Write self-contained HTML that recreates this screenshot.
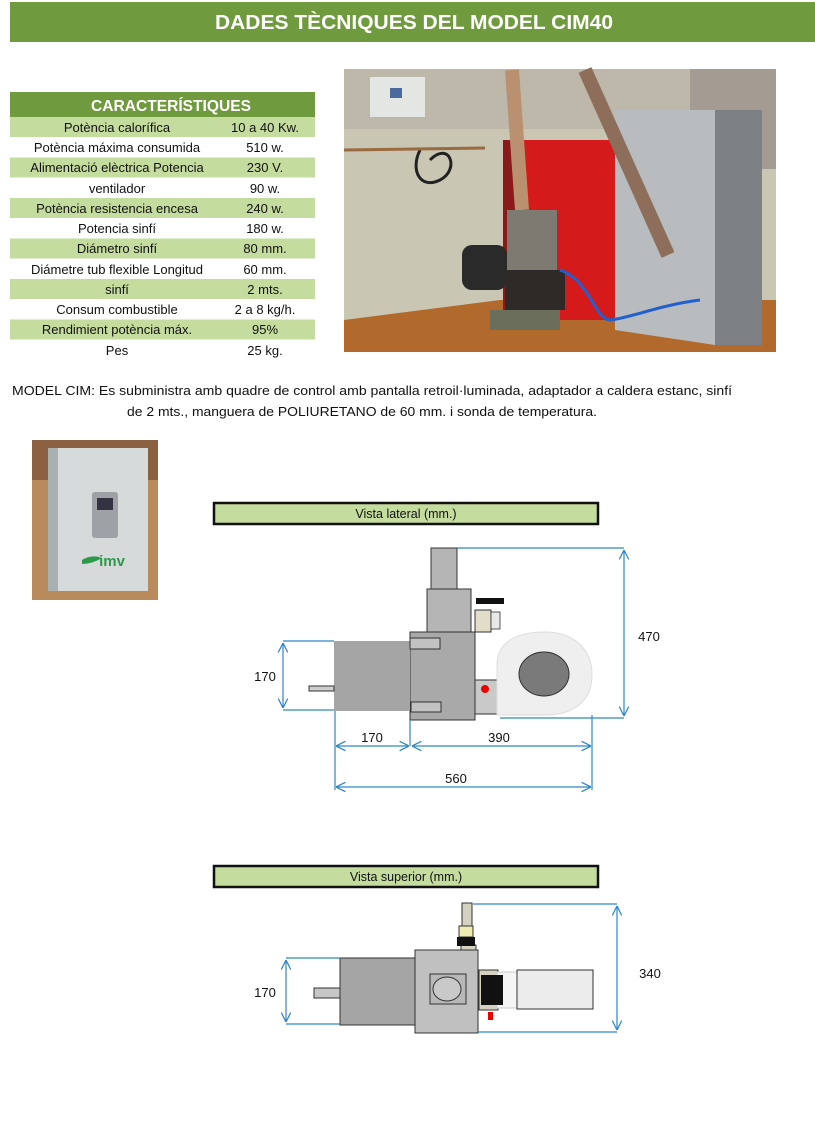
<!DOCTYPE html>
<html><head><meta charset="utf-8"><style>
body{margin:0;background:#fff;width:815px;height:1133px;overflow:hidden;font-family:"Liberation Sans",sans-serif}
svg{position:absolute;left:0;top:0}
text{font-family:"Liberation Sans",sans-serif}
</style></head><body>
<svg width="815" height="1133" viewBox="0 0 815 1133">
<defs>
<marker id="a" viewBox="0 0 10 10" refX="10" refY="5" markerWidth="8" markerHeight="8" orient="auto-start-reverse"><path d="M0,0L10,5L0,10" fill="none" stroke="#2e86c8" stroke-width="1.3"/></marker>
</defs>
<!-- header -->
<rect x="10" y="2" width="805" height="40" fill="#6f9a3e"/>
<text x="414" y="29" text-anchor="middle" font-size="20" font-weight="bold" fill="#fff" textLength="398" lengthAdjust="spacingAndGlyphs">DADES TÈCNIQUES DEL MODEL  CIM40</text>
<!-- table -->
<rect x="10" y="92" width="305" height="25" fill="#6f9a3e"/>
<text x="171" y="111" text-anchor="middle" font-size="16" font-weight="bold" fill="#fff" textLength="160" lengthAdjust="spacingAndGlyphs">CARACTERÍSTIQUES</text>
<g fill="#c5dc9f">
<rect x="10" y="117" width="305" height="20"/><rect x="10" y="157.5" width="305" height="20"/><rect x="10" y="198" width="305" height="20"/><rect x="10" y="238.5" width="305" height="20"/><rect x="10" y="279" width="305" height="20"/><rect x="10" y="319.5" width="305" height="20"/>
</g>
<g font-size="13" fill="#111" text-anchor="middle">
<text x="117" y="132">Potència calorífica</text><text x="265" y="132">10 a 40 Kw.</text>
<text x="117" y="152">Potència máxima consumida</text><text x="265" y="152">510 w.</text>
<text x="117" y="172">Alimentació elèctrica Potencia</text><text x="265" y="172">230 V.</text>
<text x="117" y="193">ventilador</text><text x="265" y="193">90 w.</text>
<text x="117" y="213">Potència resistencia encesa</text><text x="265" y="213">240 w.</text>
<text x="117" y="233">Potencia sinfí</text><text x="265" y="233">180 w.</text>
<text x="117" y="253">Diámetro sinfí</text><text x="265" y="253">80 mm.</text>
<text x="117" y="274">Diámetre tub flexible Longitud</text><text x="265" y="274">60 mm.</text>
<text x="117" y="294">sinfí</text><text x="265" y="294">2 mts.</text>
<text x="117" y="314">Consum combustible</text><text x="265" y="314">2 a 8 kg/h.</text>
<text x="117" y="334">Rendimient potència máx.</text><text x="265" y="334">95%</text>
<text x="117" y="355">Pes</text><text x="265" y="355">25 kg.</text>
</g>
<!-- photo -->
<rect x="344" y="69" width="432" height="283" fill="#c9c7b3"/>
<rect x="344" y="69" width="432" height="60" fill="#bdb8aa"/>
<rect x="690" y="69" width="86" height="100" fill="#a49c92"/>
<polygon points="344,320 500,300 776,300 776,352 344,352" fill="#b26a2c"/>
<rect x="370" y="77" width="55" height="40" fill="#e4e6e4"/>
<rect x="390" y="88" width="12" height="10" fill="#4b6a9c"/>
<path d="M420,150 C410,170 420,190 440,180 C460,170 450,140 430,160" stroke="#222" stroke-width="3" fill="none"/>
<line x1="344" y1="150" x2="485" y2="148" stroke="#9a6a40" stroke-width="3"/>
<rect x="503" y="140" width="112" height="180" fill="#d41a1a"/>
<rect x="503" y="140" width="20" height="180" fill="#8a1a1a"/>
<polygon points="615,110 715,110 715,345 615,330" fill="#b8bcbf"/>
<rect x="715" y="110" width="47" height="235" fill="#7d8185"/>
<line x1="585" y1="70" x2="668" y2="255" stroke="#8d6e5a" stroke-width="14"/>
<line x1="512" y1="70" x2="522" y2="210" stroke="#b99070" stroke-width="14"/>
<rect x="462" y="245" width="45" height="45" rx="10" fill="#2a2a2a"/>
<rect x="507" y="210" width="50" height="60" fill="#7d7a72"/>
<rect x="505" y="270" width="60" height="40" fill="#2d2a28"/>
<path d="M560,270 C590,280 595,320 610,320 C630,318 660,305 700,300" stroke="#2260d0" stroke-width="3" fill="none"/>
<rect x="490" y="310" width="70" height="20" fill="#6b6e5a"/>
<!-- control photo -->
<rect x="32" y="440" width="126" height="160" fill="#b98a5c"/>
<rect x="32" y="440" width="126" height="40" fill="#8a6040"/>
<rect x="48" y="448" width="100" height="143" fill="#d6dadb"/>
<rect x="48" y="448" width="10" height="143" fill="#aab0b2"/>
<rect x="92" y="492" width="26" height="46" rx="3" fill="#9ea2a6"/>
<rect x="97" y="498" width="16" height="12" fill="#334"/>
<text x="112" y="566" text-anchor="middle" font-size="15" font-weight="bold" fill="#2b9a4a">imv</text>
<path d="M82,560 q10,-6 20,-2 q-10,6 -20,6z" fill="#2b9a4a"/>
<!-- description -->
<text x="12" y="395" font-size="13" fill="#111" textLength="720" lengthAdjust="spacingAndGlyphs">MODEL CIM: Es subministra amb quadre de control amb pantalla retroil·luminada, adaptador a caldera estanc, sinfí</text>
<text x="127" y="416" font-size="13" fill="#111" textLength="470" lengthAdjust="spacingAndGlyphs">de 2 mts., manguera de POLIURETANO de 60 mm.  i sonda de temperatura.</text>
<!-- side view -->
<rect x="214" y="503" width="384" height="21" fill="#c5dc9f" stroke="#111" stroke-width="2.5"/>
<text x="406" y="518" text-anchor="middle" font-size="12.5" fill="#111">Vista lateral (mm.)</text>
<g stroke="#333" stroke-width="1">
<rect x="431" y="548" width="26" height="42" fill="#b5b5b5"/>
<rect x="427" y="589" width="44" height="44" fill="#b5b5b5"/>
<rect x="475" y="610" width="16" height="22" fill="#e2dccb"/>
<rect x="410" y="632" width="65" height="88" fill="#a9a9a9"/>
<rect x="334" y="641" width="76" height="70" fill="#a5a5a5" stroke="none"/>
<rect x="309" y="686" width="25" height="5" fill="#cfcfcf"/>
<rect x="410" y="638" width="30" height="11" fill="#c2c2c2"/>
<rect x="411" y="702" width="30" height="10" fill="#c2c2c2"/>
<rect x="475" y="680" width="22" height="34" fill="#c9c9c9"/>
</g>
<rect x="476" y="598" width="28" height="6" fill="#111"/>
<rect x="491" y="612" width="9" height="17" fill="#e8e8e8" stroke="#333" stroke-width="0.8"/>
<circle cx="485" cy="689" r="4" fill="#e00"/>
<path d="M497,715 L497,665 C497,640 520,632 545,632 C575,632 592,650 592,675 C592,700 575,715 545,715Z" fill="#efefef" stroke="#ddd"/>
<ellipse cx="544" cy="674" rx="25" ry="22" fill="#7a7a7a" stroke="#333"/>
<g stroke="#2e86c8" stroke-width="1.2" fill="none">
<line x1="457" y1="548" x2="624" y2="548"/><line x1="500" y1="718" x2="624" y2="718"/>
<line x1="624" y1="550" x2="624" y2="716" marker-start="url(#a)" marker-end="url(#a)"/>
<line x1="283" y1="641" x2="334" y2="641"/><line x1="283" y1="710" x2="334" y2="710"/>
<line x1="283" y1="643" x2="283" y2="708" marker-start="url(#a)" marker-end="url(#a)"/>
<line x1="335" y1="711" x2="335" y2="790"/><line x1="410" y1="720" x2="410" y2="746"/><line x1="592" y1="715" x2="592" y2="790"/>
<line x1="336" y1="746" x2="409" y2="746" marker-start="url(#a)" marker-end="url(#a)"/>
<line x1="412" y1="746" x2="591" y2="746" marker-start="url(#a)" marker-end="url(#a)"/>
<line x1="336" y1="787" x2="591" y2="787" marker-start="url(#a)" marker-end="url(#a)"/>
</g>
<g font-size="13" fill="#111" text-anchor="middle">
<text x="649" y="641">470</text><text x="265" y="681">170</text>
<text x="372" y="742">170</text><text x="499" y="742">390</text><text x="456" y="783">560</text>
</g>
<!-- top view -->
<rect x="214" y="866" width="384" height="21" fill="#c5dc9f" stroke="#111" stroke-width="2.5"/>
<text x="406" y="881" text-anchor="middle" font-size="12.5" fill="#111">Vista superior (mm.)</text>
<g stroke="#333" stroke-width="1">
<rect x="462" y="903" width="10" height="24" fill="#d6d2c2"/>
<rect x="459" y="926" width="14" height="11" fill="#f0ecb0"/>
<rect x="461" y="945" width="15" height="7" fill="#d6d2c2"/>
<rect x="415" y="950" width="63" height="83" fill="#c0c0c0"/>
<rect x="340" y="958" width="75" height="67" fill="#a5a5a5"/>
<rect x="314" y="988" width="26" height="10" fill="#c6c6c6"/>
<rect x="430" y="974" width="36" height="30" fill="#b8b8b8"/>
<ellipse cx="447" cy="989" rx="14" ry="12" fill="#c9c9c9"/>
<rect x="479" y="970" width="19" height="40" fill="#d6d2c2"/>
<rect x="497" y="972" width="20" height="36" fill="#f5f5f5" stroke="#ccc"/>
<rect x="517" y="970" width="76" height="39" fill="#ececec"/>
</g>
<rect x="457" y="937" width="18" height="9" fill="#111"/>
<rect x="481" y="975" width="22" height="30" fill="#111"/>
<rect x="488" y="1012" width="5" height="8" fill="#e00"/>
<g stroke="#2e86c8" stroke-width="1.2" fill="none">
<line x1="473" y1="904" x2="617" y2="904"/><line x1="478" y1="1032" x2="617" y2="1032"/>
<line x1="617" y1="906" x2="617" y2="1030" marker-start="url(#a)" marker-end="url(#a)"/>
<line x1="286" y1="958" x2="340" y2="958"/><line x1="286" y1="1024" x2="340" y2="1024"/>
<line x1="286" y1="960" x2="286" y2="1022" marker-start="url(#a)" marker-end="url(#a)"/>
</g>
<g font-size="13" fill="#111" text-anchor="middle">
<text x="650" y="978">340</text><text x="265" y="997">170</text>
</g>
</svg>
</body></html>
